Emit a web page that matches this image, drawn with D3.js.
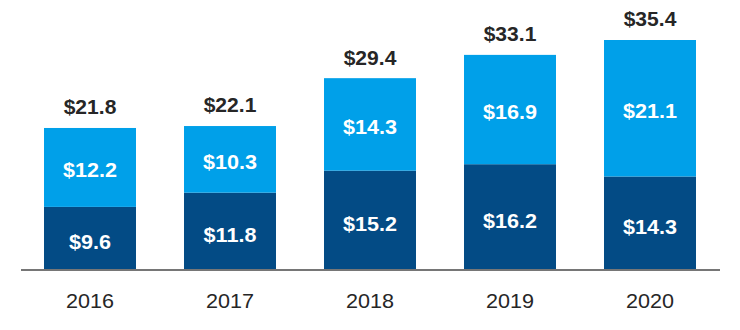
<!DOCTYPE html>
<html>
<head>
<meta charset="utf-8">
<script src="https://cdn.jsdelivr.net/npm/d3@7"></script>
<style>
  html, body { margin: 0; padding: 0; background: #fff; }
  svg { display: block; font-family: "Liberation Sans", Arial, sans-serif; }
</style>
</head>
<body>
<svg id="chart" width="740" height="330"></svg>
<script>
// Annual values in $, split into two stacked components
const years = ["2016", "2017", "2018", "2019", "2020"];
const bottomValues = [9.6, 11.8, 15.2, 16.2, 14.3];
const topValues = [12.2, 10.3, 14.3, 16.9, 21.1];
const totals = [21.8, 22.1, 29.4, 33.1, 35.4];

const colors = { bottom: "#034b85", top: "#00a0e9" };
// labels inside segments sit slightly below the segment centre
const labelShift = { bottom: 4, top: 2.5 };
const stretch = 1.08; // glyphs are drawn slightly wide

const svg = d3.select("#chart");
const baseY = 269;

const x = d3.scaleBand()
  .domain(years)
  .range([20, 720])
  .paddingInner(0.343)
  .paddingOuter(0.1715);

const y = d3.scaleLinear()
  .domain([0, 35.4])
  .range([baseY, 40]);

const rows = years.map((yr, i) => ({
  year: yr,
  bottom: bottomValues[i],
  top: topValues[i],
  total: totals[i]
}));

const stack = d3.stack().keys(["bottom", "top"]);
const series = stack(rows);

const fmt = v => "$" + d3.format(".1f")(v);
const cx = yr => x(yr) + x.bandwidth() / 2;

// stacked segments
series.forEach(s => {
  const g = svg.append("g");
  g.selectAll("rect")
    .data(s)
    .join("rect")
    .attr("x", d => x(d.data.year))
    .attr("width", x.bandwidth())
    .attr("y", d => y(d[1]))
    .attr("height", d => y(d[0]) - y(d[1]))
    .attr("fill", colors[s.key]);

  g.selectAll("text")
    .data(s)
    .join("text")
    .attr("transform", d =>
      `translate(${cx(d.data.year)},${(y(d[0]) + y(d[1])) / 2 + labelShift[s.key] + 7.2}) scale(${stretch},1)`)
    .attr("text-anchor", "middle")
    .attr("fill", "#fff")
    .attr("font-weight", "bold")
    .attr("font-size", 20)
    .text(d => fmt(d.data[s.key]));
});

// totals above bars
svg.append("g").selectAll("text")
  .data(rows)
  .join("text")
  .attr("transform", d => `translate(${cx(d.year)},${y(d.total) - 14}) scale(${stretch},1)`)
  .attr("text-anchor", "middle")
  .attr("fill", "#262626")
  .attr("font-weight", "bold")
  .attr("font-size", 19.5)
  .text(d => fmt(d.total));

// x axis
const axis = svg.append("g")
  .attr("transform", `translate(0,${baseY + 1})`)
  .call(d3.axisBottom(x).tickSize(0).tickPadding(0));
axis.select(".domain")
  .attr("d", "M21,0H720")
  .attr("stroke", "#767676")
  .attr("stroke-width", 2);
axis.selectAll(".tick text")
  .attr("y", 0)
  .attr("dy", 0)
  .attr("transform", `translate(0,37.5) scale(${stretch},1)`)
  .attr("font-size", 20)
  .attr("font-family", "Liberation Sans, Arial, sans-serif")
  .attr("fill", "#262626");
</script>
</body>
</html>
